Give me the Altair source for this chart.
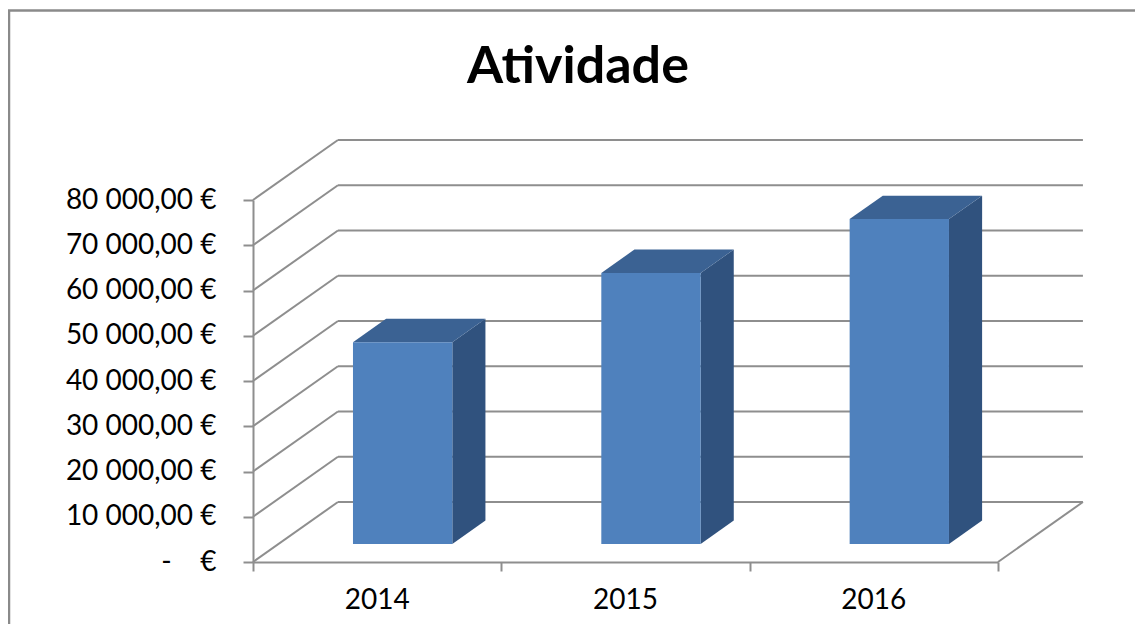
import altair as alt
import pandas as pd

# ---- data ----
YEARS = ["2014", "2015", "2016"]
VALUES = [44600, 59900, 71800]
Y_TICKS = [0, 10000, 20000, 30000, 40000, 50000, 60000, 70000, 80000]
X_BOUNDS = [0, 1, 2, 3]
TITLE = "Atividade"

# ---- 3D styling (oblique projection) ----
DX = 0.342      # depth offset along x (category units)
DY = 13260      # depth offset along y (value units)
BAR_L, BAR_R = 0.30, 0.70   # bar extent inside a category
F0, F1 = 0.30, 0.69         # bar front / back depth fraction
GRAY = "#8e8e8e"
FRONT, TOP, SIDE = "#4f81bd", "#3b6293", "#30527e"
FONT = "Lato"
LABEL_SIZE = 28

xs = alt.Scale(domain=[0, 3], nice=False, zero=False)
ys = alt.Scale(domain=[0, 80000], nice=False, zero=False)

label_expr = ("datum.value == 0 ? '-\u00a0\u00a0\u00a0\u00a0€' : "
              "replace(replace(format(datum.value, ',.2f'), ',', ' '), '.', ',') + ' €'")

y_axis = alt.Axis(values=Y_TICKS, tickSize=10, tickWidth=2, tickColor=GRAY,
                  domainColor=GRAY, domainWidth=2, labelFont=FONT, labelFontSize=LABEL_SIZE,
                  labelColor="#000000", labelPadding=27, labelExpr=label_expr,
                  grid=False, title=None)
x_axis = alt.Axis(values=X_BOUNDS, tickSize=9, tickWidth=2, tickColor=GRAY,
                  domainColor=GRAY, domainWidth=2, labels=False, grid=False, title=None)


def X(field):
    return alt.X(field, type="quantitative", scale=xs, axis=x_axis)


def Y(field):
    return alt.Y(field, type="quantitative", scale=ys, axis=y_axis)


front = pd.DataFrame({
    "year": YEARS,
    "x": [i + BAR_L + F0 * DX for i in range(len(YEARS))],
    "x2": [i + BAR_R + F0 * DX for i in range(len(YEARS))],
    "y": [F0 * DY for _ in YEARS],
    "y2": [v + F0 * DY for v in VALUES],
})

back_grid = pd.DataFrame({"x": [DX] * len(Y_TICKS), "x2": [3 + DX] * len(Y_TICKS),
                          "y": [t + DY for t in Y_TICKS]})
left_diag = pd.DataFrame({"x": [0] * len(Y_TICKS), "x2": [DX] * len(Y_TICKS),
                          "y": Y_TICKS, "y2": [t + DY for t in Y_TICKS]})
floor_diag = pd.DataFrame({"x": [3], "x2": [3 + DX], "y": [0], "y2": [DY]})
labels = pd.DataFrame({"year": YEARS, "x": [i + 0.5 for i in range(len(YEARS))],
                       "y": [0] * len(YEARS)})

layers = []

border = alt.Chart(pd.DataFrame({"a": [0]})).mark_rect(
    filled=False, stroke="#8a8a8a", strokeWidth=2.5).encode(
    x=alt.value(-244), x2=alt.value(1000), y=alt.value(-189.5), y2=alt.value(600),
)
layers.append(border)

layers.append(alt.Chart(back_grid).mark_rule(color=GRAY, strokeWidth=2).encode(
    x=X("x"), x2="x2", y=Y("y")))
layers.append(alt.Chart(left_diag).mark_rule(color=GRAY, strokeWidth=2).encode(
    x=X("x"), x2="x2", y=Y("y"), y2="y2"))
layers.append(alt.Chart(floor_diag).mark_rule(color=GRAY, strokeWidth=2).encode(
    x=X("x"), x2="x2", y=Y("y"), y2="y2"))

# one area per bar face, each a parallelogram
for i, (yr, v) in enumerate(zip(YEARS, VALUES)):
    side = pd.DataFrame({
        "x": [i + BAR_R + F0 * DX, i + BAR_R + F1 * DX],
        "y": [v + F0 * DY, v + F1 * DY],
        "y2": [F0 * DY, F1 * DY],
    })
    top = pd.DataFrame({
        "y": [v + F0 * DY, v + F1 * DY],
        "x": [i + BAR_L + F0 * DX, i + BAR_L + F1 * DX],
        "x2": [i + BAR_R + F0 * DX, i + BAR_R + F1 * DX],
    })
    layers.append(alt.Chart(side).mark_area(color=SIDE).encode(
        x=X("x"), y=Y("y"), y2="y2"))
    layers.append(alt.Chart(top).mark_area(color=TOP, orient="horizontal").encode(
        y=Y("y"), x=X("x"), x2="x2"))

layers.append(alt.Chart(front).mark_rect(color=FRONT).encode(
    x=X("x"), x2="x2", y=Y("y"), y2="y2"))

layers.append(alt.Chart(labels).mark_text(font=FONT, fontSize=LABEL_SIZE, color="#000000",
                                          baseline="middle", dy=39).encode(
    x=X("x"), y=Y("y"), text="year:N"))

layers.append(alt.Chart(pd.DataFrame({"t": [TITLE]})).mark_text(
    font=FONT, fontSize=52, fontWeight="bold", color="#000000",
    align="center", baseline="alphabetic").encode(
    x=alt.value(325), y=alt.value(-117), text="t:N"))

chart = alt.layer(*layers).properties(
    width=745, height=362,
    autosize=alt.AutoSizeParams(type="none"),
    padding={"left": 245, "top": 192, "right": 137, "bottom": 62},
    background="white",
).configure_view(strokeWidth=0)

chart.save("out.html", embed_options={"renderer": "svg", "actions": False})
